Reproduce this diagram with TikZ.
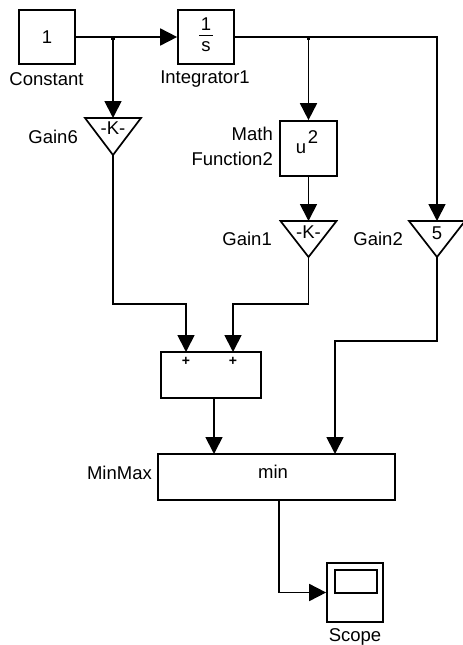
\documentclass[tikz,border=0pt]{standalone}
\usepackage{fontspec}
\setmainfont{Liberation Sans}
\usetikzlibrary{arrows.meta}
\begin{document}
\begin{tikzpicture}[x=1pt,y=-1pt,
  wire/.style={line width=1.8pt},
  sig/.style={wire,-{Triangle[length=17pt,width=17pt]}},
  blk/.style={draw,line width=1.7pt,inner sep=0pt},
  tri/.style={draw,line width=1.7pt,line join=miter},
  lbl/.style={font=\fontsize{18.5}{25}\selectfont,inner sep=0pt},
  plus/.style={font=\bfseries\fontsize{14}{16}\selectfont,inner sep=0pt},
  dotm/.style={fill,minimum size=3.5pt,inner sep=0pt}]
\useasboundingbox (0,0) rectangle (463,645);

% blocks
\node[blk,lbl,minimum width=56pt,minimum height=54pt] (const) at (47,37) {1};
\node[lbl] (constlbl) at (46.5,79) {Constant};

\node[blk,minimum width=56pt,minimum height=54pt] (integ) at (206,37) {};
\node[lbl] (integnum) at (206,24) {1};
\node[lbl] (integden) at (206,47) {s};
\draw[line width=1.3pt] (199,35.5) -- (213,35.5);
\node[lbl] (integlbl) at (205,79) {Integrator1};

\node[blk,minimum width=57pt,minimum height=55pt] (math) at (308.5,148.5) {};
\node[lbl] (mathu) at (301,149) {u};
\node[lbl] (mathsq) at (313,137) {2};
\node[lbl,align=right,anchor=east] (mathlbl) at (273,146) {Math\\Function2};

% gains
\coordinate (g6in) at (113,118);
\coordinate (g6out) at (113,155);
\draw[tri] (g6in) ++(-28,0) -- ++(56,0) -- (g6out) -- cycle;
\node[lbl] (g6txt) at (113,128) {-K-};
\node[lbl,anchor=east] (g6lbl) at (78,137) {Gain6};

\coordinate (g1in) at (308.5,221);
\coordinate (g1out) at (308.5,257);
\draw[tri] (g1in) ++(-28,0) -- ++(56,0) -- (g1out) -- cycle;
\node[lbl] (g1txt) at (308.5,232) {-K-};
\node[lbl,anchor=east] (g1lbl) at (272,239) {Gain1};

\coordinate (g2in) at (437,221);
\coordinate (g2out) at (437,257);
\draw[tri] (g2in) ++(-28,0) -- ++(56,0) -- (g2out) -- cycle;
\node[lbl] (g2txt) at (437,233) {5};
\node[lbl,anchor=east] (g2lbl) at (403,239) {Gain2};

% sum
\node[blk,minimum width=100pt,minimum height=46pt] (sum) at (211,375) {};
\coordinate (sumin1) at (186,352);
\coordinate (sumin2) at (233,352);
\coordinate (sumout) at (214,398);
\node[plus] (p1) at (186,361) {+};
\node[plus] (p2) at (233,361) {+};

% minmax
\node[blk,lbl,minimum width=237pt,minimum height=46pt] (minmax) at (276.5,477) {};
\node[lbl] (mintxt) at (273,472) {min};
\node[lbl,anchor=east] (minmaxlbl) at (152,473) {MinMax};
\coordinate (mmin1) at (214,454);
\coordinate (mmin2) at (335,454);
\coordinate (mmout) at (279,500);

% scope
\node[blk,minimum width=56pt,minimum height=59pt] (scope) at (355,592.5) {};
\draw[line width=1.7pt] (335,570) rectangle (377,593);
\node[lbl] (scopelbl) at (355,637) {Scope};

% branch points
\coordinate (b1) at (113,37);
\coordinate (b2) at (308.5,37);
\node[dotm] at (113,38.5) {};
\node[dotm] at (308.5,38.5) {};

% connectors
\draw[sig] (const.east) -- (integ.west);
\draw[sig] (b1) -- (g6in);
\draw[sig] (integ.east) -| (g2in);
\draw[sig] (b2) -- (math.north);
\draw[sig] (math.south) -- (g1in);
\draw[sig] (g6out) |- (186,304) -- (sumin1);
\draw[sig] (g1out) |- (233,304) -- (sumin2);
\draw[sig] (sumout) -- (mmin1);
\draw[sig] (g2out) |- (335,341) -- (mmin2);
\draw[sig] (mmout) |- (scope.west);
\end{tikzpicture}
\end{document}
